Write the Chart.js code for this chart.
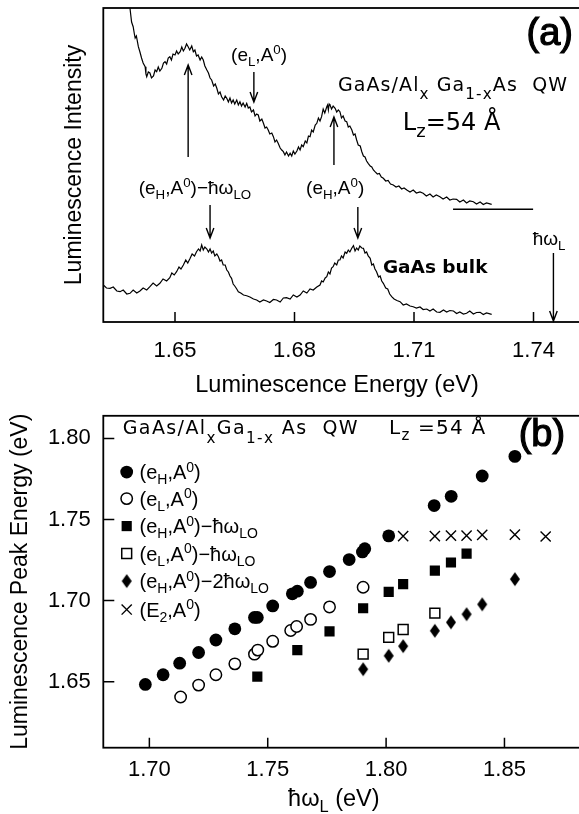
<!DOCTYPE html>
<html>
<head>
<meta charset="utf-8">
<script src="https://cdn.jsdelivr.net/npm/chart.js@4.4.0/dist/chart.umd.min.js"></script>
<style>
  html, body { margin: 0; padding: 0; background: #fff; overflow: hidden; width: 579px; height: 814px; }
  #wa { position: absolute; left: 0; top: 0; width: 590px; height: 400px; }
  #wb { position: absolute; left: 0; top: 390px; width: 590px; height: 424px; }
</style>
</head>
<body>
<div id="wa"><canvas id="ca" width="590" height="400"></canvas></div>
<div id="wb"><canvas id="cb" width="590" height="424"></canvas></div>
<script>
// ===== panel (a): luminescence spectra (energy in eV, intensity in arb. units) =====
const qwE = [1.6387,1.6391,1.6395,1.6398,1.6400,1.6403,1.6408,1.6412,1.6416,1.6420,
  1.6425,1.6427,1.6429,1.6433,1.6437,1.6441,1.6446,1.6450,1.6454,1.6458,
  1.6462,1.6467,1.6471,1.6475,1.6479,1.6483,1.6487,1.6491,1.6495,1.6500,
  1.6504,1.6508,1.6513,1.6517,1.6521,1.6525,1.6529,1.6533,1.6537,1.6542,
  1.6546,1.6550,1.6554,1.6558,1.6563,1.6567,1.6571,1.6575,1.6580,1.6584,
  1.6588,1.6592,1.6597,1.6601,1.6605,1.6609,1.6613,1.6617,1.6622,1.6626,
  1.6630,1.6634,1.6638,1.6642,1.6646,1.6650,1.6655,1.6659,1.6663,1.6667,
  1.6671,1.6676,1.6680,1.6684,1.6688,1.6692,1.6697,1.6701,1.6705,1.6709,
  1.6713,1.6718,1.6722,1.6726,1.6730,1.6734,1.6738,1.6743,1.6747,1.6751,
  1.6755,1.6759,1.6764,1.6768,1.6772,1.6776,1.6780,1.6785,1.6789,1.6793,
  1.6797,1.6801,1.6806,1.6810,1.6814,1.6818,1.6822,1.6827,1.6831,1.6835,
  1.6839,1.6843,1.6847,1.6852,1.6856,1.6860,1.6864,1.6868,1.6872,1.6876,
  1.6881,1.6883,1.6885,1.6887,1.6889,1.6893,1.6897,1.6902,1.6906,1.6910,
  1.6914,1.6918,1.6922,1.6927,1.6931,1.6935,1.6939,1.6944,1.6948,1.6952,
  1.6956,1.6960,1.6965,1.6969,1.6973,1.6977,1.6981,1.6985,1.6990,1.6994,
  1.6998,1.7002,1.7008,1.7013,1.7018,1.7023,1.7029,1.7035,1.7041,1.7048,
  1.7055,1.7062,1.7069,1.7075,1.7082,1.7090,1.7098,1.7106,1.7115,1.7123,
  1.7131,1.7140,1.7148,1.7156,1.7165,1.7173,1.7182,1.7190,1.7198,1.7207,
  1.7215,1.7224,1.7232,1.7240,1.7249,1.7257,1.7266,1.7274,1.7282,1.7295];
const qwI = [313.7,300,295.3,288,284,286,275.3,270,264,259,
  255.3,248,245.3,250,249,244,246,252,250.3,255,
  251,253.7,259,260.3,258,264,265.3,262,268,267,
  271,268,270.3,275,271,273.7,278,275.3,272,276,
  270.3,272,266,267,262,265,262,256,252,249,
  244,242,236,238,233.7,228,230,225.3,222,226,
  223.7,220,224,219,222,218,222,217,220.3,216,
  219,215,218.7,214,215,210,212,206,208,207,
  201,203,198.7,194,195,192,188,189,185.3,180,
  182,178.7,174,172,170.3,167,170,166,168.7,166,
  171,168,171,175,172,177,175.3,181,179,186,
  185.3,192,190,197,198.7,204,201,205.3,213,209,
  215.3,217,212,218,217,213,216,213.7,210,212,
  210.3,204,206,201,200.3,195,196,192,187,188,
  182,177,176,170.3,166,165,161,158.7,156,155,
  152,150.3,148,148.5,145,143.7,141,141.5,138,137,
  135,136,133,134,132,130,132,129,130,128.7,
  126,128,125,127,125.3,123,125,122,123,122.7,
  120,122,119,121,120.3,118,120,117.5,119,117.7];

const bulkE = [1.6320,1.6328,1.6337,1.6345,1.6354,1.6362,1.6370,1.6379,1.6387,1.6395,
  1.6404,1.6412,1.6420,1.6429,1.6437,1.6445,1.6454,1.6462,1.6470,1.6479,
  1.6487,1.6492,1.6498,1.6504,1.6510,1.6515,1.6521,1.6527,1.6532,1.6538,
  1.6543,1.6549,1.6554,1.6559,1.6563,1.6567,1.6571,1.6575,1.6580,1.6584,
  1.6588,1.6592,1.6596,1.6600,1.6605,1.6609,1.6613,1.6617,1.6621,1.6626,
  1.6630,1.6634,1.6638,1.6642,1.6646,1.6650,1.6655,1.6659,1.6665,1.6672,
  1.6680,1.6688,1.6697,1.6705,1.6713,1.6722,1.6730,1.6738,1.6747,1.6755,
  1.6764,1.6772,1.6780,1.6789,1.6797,1.6806,1.6814,1.6822,1.6831,1.6839,
  1.6847,1.6856,1.6864,1.6868,1.6872,1.6877,1.6881,1.6885,1.6889,1.6893,
  1.6897,1.6901,1.6906,1.6910,1.6914,1.6918,1.6922,1.6927,1.6931,1.6935,
  1.6939,1.6944,1.6948,1.6952,1.6956,1.6960,1.6964,1.6969,1.6973,1.6977,
  1.6981,1.6985,1.6990,1.6994,1.6998,1.7002,1.7006,1.7011,1.7015,1.7019,
  1.7023,1.7029,1.7034,1.7039,1.7044,1.7050,1.7057,1.7065,1.7073,1.7081,
  1.7090,1.7098,1.7106,1.7115,1.7123,1.7132,1.7140,1.7148,1.7157,1.7165,
  1.7174,1.7182,1.7190,1.7199,1.7207,1.7215,1.7224,1.7232,1.7240,1.7249,
  1.7257,1.7266,1.7274,1.7282,1.7295];
const bulkI = [37,34,33.7,35,31,30.3,32,28,28.7,32,
  29,31,34,32,35.3,39,36,38.7,43,41,
  44.3,49,47,50.3,55,53,57,62,59,63.7,
  68,66,70.3,73,71,77,72,75,73,70,
  73,69,71,66,68,65.3,61,62,57,57,
  52,50,46,43.7,38,36,33,30.3,29,27,
  26.3,25,23,22,20,22,21,19.5,22.5,22,
  20,24,24.3,23,27,25,27,31,29,33,
  32,35,37,41,40,44,45.3,50,48,54,
  55.3,59,57,62,62,66,64,70,68.7,72,
  70,74,76.3,71,74,72,76,74,73.7,69,
  70,66,63.7,57,58,53,50.3,45,46,41,
  38.7,34,33,28,25.3,23,21.5,20.3,17,18,
  16,15.3,14,15,12.5,13,11,13,10,9.7,
  12,10,11.5,11,8.5,10,8,8.7,11,8,
  9.5,9.7,7.5,9,7.7];

// zero level of the QW spectrum
const baseE = [1.7198, 1.7399];
const baseI = [112.7, 112.7];

const xTicksA = [1.65, 1.68, 1.71, 1.74];

// ===== panel (b): peak energies vs laser energy (eV) =====
const ehX = [1.6983,1.7058,1.7128,1.7208,1.7281,1.7361,1.7444,1.7456,1.7521,1.7604,1.7625,1.7681,1.7761,1.7844,1.7900,1.7910,1.8011,1.8203,1.8275,1.8406,1.8544];
const ehY = [1.6483,1.6543,1.6614,1.6680,1.6757,1.6826,1.6896,1.6896,1.6967,1.7042,1.7058,1.7112,1.7179,1.7253,1.7300,1.7320,1.7399,1.7586,1.7643,1.7768,1.7889];
const elX = [1.7132,1.7208,1.7281,1.7361,1.7444,1.7458,1.7521,1.7597,1.7622,1.7681,1.7761,1.7903];
const elY = [1.6406,1.6479,1.6543,1.6610,1.6670,1.6695,1.6749,1.6816,1.6840,1.6884,1.6961,1.7082];
const ehLoX = [1.7456,1.7625,1.7761,1.7903,1.8011,1.8072,1.8206,1.8274,1.8340];
const ehLoY = [1.6531,1.6695,1.6810,1.6953,1.7054,1.7102,1.7185,1.7235,1.7290];
const elLoX = [1.7903,1.8011,1.8072,1.8206];
const elLoY = [1.6670,1.6773,1.6822,1.6923];
const eh2LoX = [1.7903,1.8011,1.8072,1.8206,1.8274,1.8340,1.8406,1.8544];
const eh2LoY = [1.6577,1.6660,1.6719,1.6814,1.6866,1.6916,1.6977,1.7132];
const e2X = [1.8072,1.8206,1.8274,1.8340,1.8406,1.8544,1.8674];
const e2Y = [1.7397,1.7397,1.7401,1.7401,1.7405,1.7407,1.7395];

const xTicksB = [1.70, 1.75, 1.80, 1.85];
const yTicksB = [1.65, 1.70, 1.75, 1.80];

// ----- helpers -----
const FONT = '"Liberation Sans", Arial, sans-serif';
const ROUND = '"DejaVu Sans", Verdana, sans-serif';

const pts = (xs, ys) => xs.map((x, i) => ({ x, y: ys[i] }));

// text with sub (1) / superscript (2) parts
function rich(ctx, parts, x, y, o) {
  const fs = o.size, ss = fs * (o.scale || 0.7);
  const fnt = s => (o.weight || 'normal') + ' ' + s + 'px ' + (o.family || FONT);
  ctx.save();
  if ('letterSpacing' in ctx) ctx.letterSpacing = (o.ls || 0) + 'px';
  let w = 0;
  for (const p of parts) { ctx.font = fnt(p[1] ? ss : fs); w += ctx.measureText(p[0]).width; }
  let cx = o.align === 'center' ? x - w / 2 : o.align === 'right' ? x - w : x;
  ctx.fillStyle = '#000'; ctx.strokeStyle = '#000'; ctx.lineWidth = o.stroke || 0;
  ctx.textAlign = 'left'; ctx.textBaseline = o.baseline || 'alphabetic';
  for (const p of parts) {
    ctx.font = fnt(p[1] ? ss : fs);
    const dy = p[1] === 1 ? fs * (o.sub == null ? 0.25 : o.sub) : p[1] === 2 ? -fs * (o.sup == null ? 0.36 : o.sup) : 0;
    ctx.fillText(p[0], cx, y + dy);
    if (o.stroke) ctx.strokeText(p[0], cx, y + dy);
    cx += ctx.measureText(p[0]).width;
  }
  ctx.restore();
}

function arrow(ctx, x, y1, y2) {
  const d = y2 > y1 ? 1 : -1;
  ctx.beginPath();
  ctx.moveTo(x, y1); ctx.lineTo(x, y2);
  ctx.moveTo(x - 3.8, y2 - d * 10); ctx.lineTo(x, y2); ctx.lineTo(x + 3.8, y2 - d * 10);
  ctx.stroke();
}

// box around plot area + inward ticks
function framePlugin(xt, yt) {
  return {
    id: 'frame',
    afterDatasetsDraw(chart) {
      const { ctx, chartArea: a, scales: { x, y } } = chart;
      ctx.save();
      ctx.strokeStyle = '#000'; ctx.lineWidth = 1.8;
      ctx.strokeRect(a.left, a.top, a.right - a.left, a.bottom - a.top);
      ctx.lineWidth = 1.5;
      ctx.beginPath();
      xt.forEach(v => { const px = x.getPixelForValue(v); ctx.moveTo(px, a.bottom); ctx.lineTo(px, a.bottom - 10); });
      yt.forEach(v => { const py = y.getPixelForValue(v); ctx.moveTo(a.left, py); ctx.lineTo(a.left + 11, py); });
      ctx.stroke();
      ctx.restore();
    }
  };
}

const eH = [['(e', 0], ['H', 1], [',A', 0], ['0', 2], [')', 0]];
const eL = [['(e', 0], ['L', 1], [',A', 0], ['0', 2], [')', 0]];
const LO = [['−ħω', 0], ['LO', 1]];
const LO2 = [['−2ħω', 0], ['LO', 1]];
const E2 = [['(E', 0], ['2', 1], [',A', 0], ['0', 2], [')', 0]];

// ----- panel (a) annotations -----
const annotA = {
  id: 'annotA',
  afterDraw(chart) {
    const { ctx, scales: { x, y } } = chart;
    const X = v => x.getPixelForValue(v), Y = v => y.getPixelForValue(v);
    ctx.save();
    ctx.strokeStyle = '#000'; ctx.lineWidth = 1.4;
    arrow(ctx, X(1.6533), Y(165), Y(257));
    arrow(ctx, X(1.6899), Y(157), Y(205));
    arrow(ctx, X(1.6698), Y(250), Y(220));
    arrow(ctx, X(1.6588), Y(117), Y(84));
    arrow(ctx, X(1.6959), Y(115), Y(84));
    arrow(ctx, X(1.7450), Y(69), Y(1));
    ctx.restore();

    rich(ctx, eL, X(1.6711), Y(261), { size: 19, align: 'center' });
    rich(ctx, eH.concat(LO), X(1.6550), Y(128), { size: 19, align: 'center' });
    rich(ctx, eH, X(1.6902), Y(128), { size: 19, align: 'center' });
    rich(ctx, [['ħω', 0], ['L', 1]], X(1.7439), Y(77), { size: 19, align: 'center' });
    rich(ctx, [['GaAs bulk', 0]], X(1.7022), Y(49), { size: 18.5, family: ROUND, weight: 'bold' });
    rich(ctx, [['GaAs/Al', 0], ['x', 1], [' Ga', 0], ['1-x', 1], ['As  QW', 0]], X(1.6909), Y(231),
      { size: 19, family: ROUND, sub: 0.42, scale: 0.8, ls: 1.1 });
    rich(ctx, [['L', 0], ['z', 1], ['=54 Å', 0]], X(1.7072), Y(192), { size: 24, family: ROUND, sub: 0.3, scale: 0.75 });
    rich(ctx, [['(a)', 0]], X(1.7499), Y(287), { size: 38, align: 'right', baseline: 'middle', stroke: 1.2 });
    rich(ctx, [['Luminescence Energy (eV)', 0]], X(1.69067), Y(-70), { size: 23.5, align: 'center' });
  }
};

new Chart(document.getElementById('ca'), {
  type: 'line',
  data: {
    datasets: [
      { data: pts(qwE, qwI), borderColor: '#000', borderWidth: 1.2, pointRadius: 0, tension: 0 },
      { data: pts(bulkE, bulkI), borderColor: '#000', borderWidth: 1.2, pointRadius: 0, tension: 0 },
      { data: pts(baseE, baseI), borderColor: '#000', borderWidth: 1.4, pointRadius: 0 }
    ]
  },
  options: {
    responsive: false, animation: false, events: [],
    layout: { padding: { top: 8, left: 0, right: 2, bottom: 0 } },
    plugins: { legend: { display: false }, tooltip: { enabled: false } },
    scales: {
      x: {
        type: 'linear', min: 1.632, max: 1.75368,
        grid: { display: false, drawTicks: false }, border: { display: false },
        afterBuildTicks: s => { s.ticks = xTicksA.map(v => ({ value: v })); },
        afterFit: s => { s.height = 78; },
        ticks: { padding: 15.5, color: '#000', font: { family: FONT, size: 22 }, autoSkip: false, maxRotation: 0,
          callback: v => v.toFixed(2) }
      },
      y: {
        type: 'linear', min: 0, max: 314,
        grid: { display: false, drawTicks: false }, border: { display: false },
        ticks: { display: false },
        afterFit: s => { s.width = 103.3; },
        title: { display: true, text: 'Luminescence Intensity', color: '#000',
          font: { family: FONT, size: 23 }, padding: { top: 61, bottom: 0 } }
      }
    }
  },
  plugins: [framePlugin(xTicksA, []), annotA]
});

// ----- panel (b) -----
// tall diamond marker
const diamond = document.createElement('canvas');
diamond.width = 12; diamond.height = 16;
(function () {
  const c = diamond.getContext('2d');
  c.fillStyle = '#000';
  c.beginPath(); c.moveTo(6, 1); c.lineTo(11, 8); c.lineTo(6, 15); c.lineTo(1, 8); c.closePath(); c.fill();
})();

const legendRows = [eH, eL, eH.concat(LO), eL.concat(LO), eH.concat(LO2), E2];
const legendY = [1.77924, 1.76289, 1.74594, 1.72899, 1.71204, 1.69449];

const annotB = {
  id: 'annotB',
  afterDraw(chart) {
    const { ctx, scales: { x, y } } = chart;
    const X = v => x.getPixelForValue(v), Y = v => y.getPixelForValue(v);
    rich(ctx, [['GaAs/Al', 0], ['x', 1], ['Ga', 0], ['1-x', 1], [' As  QW', 0]], X(1.68875), Y(1.80285),
      { size: 19, family: ROUND, sub: 0.5, scale: 0.8, ls: 1.4 });
    rich(ctx, [['L', 0], ['z', 1], [' =54 Å', 0]], X(1.80125), Y(1.80285), { size: 20, family: ROUND, sub: 0.3, scale: 0.75, ls: 1.2 });
    rich(ctx, [['(b)', 0]], X(1.86583), Y(1.80163), { size: 38, align: 'center', baseline: 'middle', stroke: 1.2 });
    rich(ctx, [['ħω', 0], ['L', 1], [' (eV)', 0]], X(1.77792), Y(1.57343), { size: 23.5, align: 'center' });

    const H = Chart.helpers;
    chart.data.datasets.forEach((ds, i) => {
      const mx = X(1.69042), my = Y(legendY[i]);
      ctx.save();
      ctx.fillStyle = ds.backgroundColor; ctx.strokeStyle = ds.borderColor; ctx.lineWidth = ds.borderWidth;
      H.drawPoint(ctx, { pointStyle: ds.pointStyle, radius: ds.pointRadius, rotation: 0, borderWidth: ds.borderWidth }, mx, my);
      ctx.restore();
      rich(ctx, legendRows[i], X(1.69583), my + 7, { size: 20 });
    });
  }
};

new Chart(document.getElementById('cb'), {
  type: 'scatter',
  data: {
    datasets: [
      { data: pts(ehX, ehY), pointStyle: 'circle', pointRadius: 6.4, backgroundColor: '#000', borderColor: '#000', borderWidth: 0 },
      { data: pts(elX, elY), pointStyle: 'circle', pointRadius: 5.7, backgroundColor: '#fff', borderColor: '#000', borderWidth: 1.5 },
      { data: pts(ehLoX, ehLoY), pointStyle: 'rect', pointRadius: 7.2, backgroundColor: '#000', borderColor: '#000', borderWidth: 0 },
      { data: pts(elLoX, elLoY), pointStyle: 'rect', pointRadius: 7, backgroundColor: '#fff', borderColor: '#000', borderWidth: 1.5 },
      { data: pts(eh2LoX, eh2LoY), pointStyle: diamond, pointRadius: 7, backgroundColor: '#000', borderColor: '#000', borderWidth: 0 },
      { data: pts(e2X, e2Y), pointStyle: 'crossRot', pointRadius: 7.2, backgroundColor: '#000', borderColor: '#000', borderWidth: 1.4 }
    ]
  },
  options: {
    responsive: false, animation: false, events: [],
    layout: { padding: { top: 19.7, left: 0, right: 2, bottom: 0 } },
    plugins: { legend: { display: false }, tooltip: { enabled: false } },
    scales: {
      x: {
        type: 'linear', min: 1.68054, max: 1.8825,
        grid: { display: false, drawTicks: false }, border: { display: false },
        afterBuildTicks: s => { s.ticks = xTicksB.map(v => ({ value: v })); },
        afterFit: s => { s.height = 66.3; },
        ticks: { padding: 9.2, color: '#000', font: { family: FONT, size: 22 }, autoSkip: false, maxRotation: 0,
          callback: v => v.toFixed(2) }
      },
      y: {
        type: 'linear', min: 1.60932, max: 1.81392,
        grid: { display: false, drawTicks: false }, border: { display: false },
        afterBuildTicks: s => { s.ticks = yTicksB.map(v => ({ value: v })); },
        afterFit: s => { s.width = 103.3; },
        ticks: { padding: 12.6, color: '#000', font: { family: FONT, size: 22 }, autoSkip: false,
          callback: v => v.toFixed(2) },
        title: { display: true, text: 'Luminescence Peak Energy (eV)', color: '#000',
          font: { family: FONT, size: 23 }, padding: { top: 7, bottom: 0 } }
      }
    }
  },
  plugins: [framePlugin(xTicksB, yTicksB), annotB]
});
</script>
</body>
</html>
